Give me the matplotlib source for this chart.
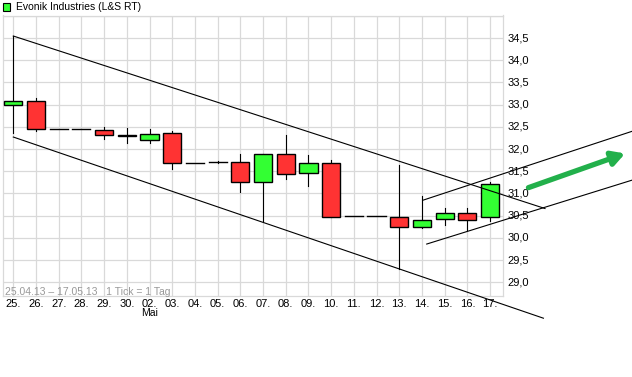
import matplotlib.pyplot as plt
from matplotlib.patches import Rectangle

# Tageskerzen Evonik Industries (L&S RT), 25.04.13 - 17.05.13
tage = ["25.", "26.", "27.", "28.", "29.", "30.", "02.", "03.", "04.", "05.", "06.",
        "07.", "08.", "09.", "10.", "11.", "12.", "13.", "14.", "15.", "16.", "17."]
eroeffnung = [33.00, 33.09, 32.45, 32.45, 32.43, 32.31, 32.20, 32.36, 31.69, 31.70, 31.71,
              31.26, 31.89, 31.46, 31.68, 30.49, 30.49, 30.47, 30.24, 30.42, 30.56, 30.47]
schluss = [33.08, 32.45, 32.45, 32.45, 32.32, 32.30, 32.34, 31.68, 31.69, 31.70, 31.26,
           31.89, 31.44, 31.68, 30.48, 30.49, 30.49, 30.24, 30.41, 30.56, 30.41, 31.21]
hoch = [34.55, 33.15, 32.45, 32.45, 32.49, 32.47, 32.45, 32.40, 31.69, 31.72, 31.89,
        31.89, 32.32, 31.87, 31.76, 30.49, 30.49, 31.65, 30.95, 30.67, 30.67, 31.26]
tief = [32.35, 32.41, 32.45, 32.45, 32.23, 32.14, 32.14, 31.55, 31.69, 31.68, 31.03,
        30.37, 31.33, 31.16, 30.46, 30.49, 30.49, 29.30, 30.22, 30.29, 30.18, 30.37]

# Trendkanal: (x0, y0, x1, y1) in Tagesindex / Kurs
kanal_ab_oben = (0.0, 34.545, 23.42, 30.66)
kanal_ab_unten = (0.0, 32.27, 23.35, 28.19)
kanal_auf_oben = (18.06, 30.85, 27.26, 32.40)
kanal_auf_unten = (18.21, 29.86, 27.26, 31.30)
pfeil = (22.69, 31.13, 26.95, 31.90)

y_ticks = [29.0, 29.5, 30.0, 30.5, 31.0, 31.5, 32.0, 32.5, 33.0, 33.5, 34.0, 34.5]

ROT = "#ff3333"
GRUEN = "#33ff33"
GRID = "#d9d9d9"

plt.rcParams['font.family'] = ['Liberation Sans', 'DejaVu Sans']

fig = plt.figure(figsize=(6.32, 3.77), dpi=100)
ax = fig.add_axes([3 / 632, 1 - 296 / 377, 500 / 632, 280.5 / 377])
ax.set_xlim(-0.454, 21.57)
ax.set_ylim(28.69, 35.007)

# Gitter
for i in range(len(tage)):
    ax.axvline(i, color=GRID, lw=0.9, zorder=0)
for y in y_ticks + [35.0]:
    ax.axhline(y, color=GRID, lw=0.9, zorder=0)
for s in ax.spines.values():
    s.set_color(GRID)
    s.set_linewidth(0.9)
ax.set_xticks([])
ax.set_yticks([])

# Kerzen
breite = 0.8
for i in range(len(tage)):
    o, c, h, l = eroeffnung[i], schluss[i], hoch[i], tief[i]
    ax.plot([i, i], [l, h], color="black", lw=0.8, zorder=2)
    unten = min(o, c)
    hoehe = abs(c - o)
    farbe = GRUEN if c > o else ROT
    if hoehe < 0.005:
        ax.plot([i - breite / 2, i + breite / 2], [o, o], color="black", lw=1.0, zorder=3)
    else:
        ax.add_patch(Rectangle((i - breite / 2, unten), breite, hoehe, facecolor=farbe,
                               edgecolor="black", lw=1.0, zorder=3))

# Trendlinien
for x0, y0, x1, y1 in [kanal_ab_oben, kanal_ab_unten, kanal_auf_oben, kanal_auf_unten]:
    ax.plot([x0, x1], [y0, y1], color="black", lw=0.8, clip_on=False, zorder=4)

ax.annotate("", xy=(pfeil[2], pfeil[3]), xytext=(pfeil[0], pfeil[1]),
            arrowprops=dict(arrowstyle="-|>,head_length=0.75,head_width=0.42",
                            color="#22b04b", lw=3.8, shrinkA=0, shrinkB=0),
            annotation_clip=False, zorder=5)

# Achsenbeschriftung
for y in y_ticks:
    ax.text(21.57 + 0.18, y, f"{y:.1f}".replace(".", ","), fontsize=8,
            ha="left", va="center", clip_on=False)
for i, t in enumerate(tage):
    ax.text(i, 28.69 - 0.06, t, fontsize=8, ha="center", va="top", clip_on=False)
ax.text(6, 28.69 - 0.26, "Mai", fontsize=7.5, ha="center", va="top", clip_on=False)

ax.text(-0.35, 28.78, "25.04.13 \u2013 17.05.13   1 Tick = 1 Tag", fontsize=7.5,
        color="#999999", ha="left", va="center")

# Legende
fig.patches.append(Rectangle((3 / 632, 1 - 10.5 / 377), 7 / 632, 7 / 377,
                             transform=fig.transFigure, facecolor=GRUEN,
                             edgecolor="black", lw=0.8))
fig.text(16 / 632, 1 - 7 / 377, "Evonik Industries (L&S RT)", fontsize=7.5,
         ha="left", va="center")

fig.savefig("out.png", dpi=100)
